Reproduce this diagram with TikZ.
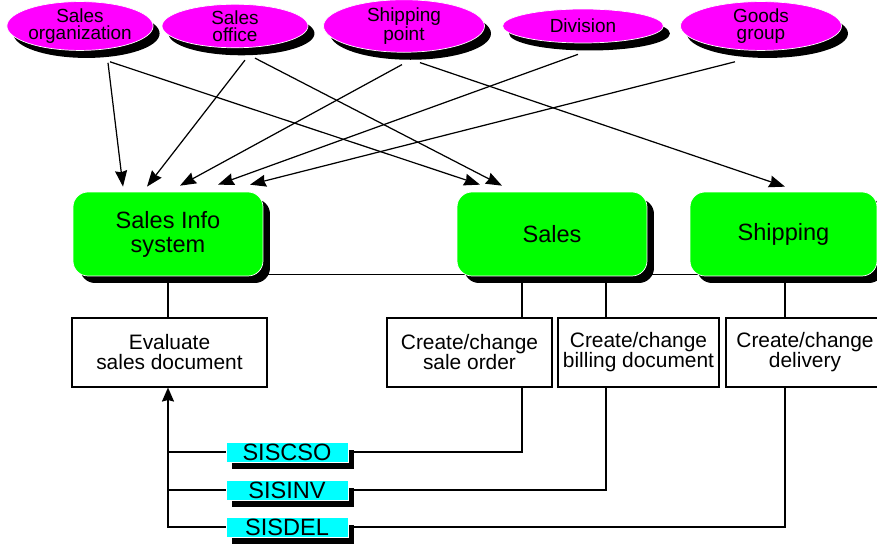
\documentclass[tikz,border=0pt]{standalone}
\usepackage{fontspec}
\setmainfont{Liberation Sans}
\usepackage{tikz}
\usetikzlibrary{arrows.meta, calc, shapes.geometric, shadows, backgrounds}
\definecolor{orgmagenta}{HTML}{FF00FF}
\definecolor{modulgruen}{HTML}{00FF00}
\definecolor{idoccyan}{HTML}{00FFFF}

\begin{document}
\begin{tikzpicture}[
        x=0.02cm, y=-0.02cm,
        orgunit/.style={ellipse, fill=orgmagenta, draw=white, line width=0.4pt,
          minimum height=0.68cm, inner sep=0pt, align=center,
          font=\fontsize{10.8}{9.6}\selectfont,
          drop shadow={shadow xshift=0.13cm, shadow yshift=-0.15cm, fill=black, opacity=1}},
        modul/.style={rectangle, rounded corners=0.3cm, fill=modulgruen, draw=white,
          minimum width=3.8cm, minimum height=1.68cm, align=center,
          font=\fontsize{13.4}{13.6}\selectfont,
          drop shadow={shadow xshift=0.14cm, shadow yshift=-0.14cm, fill=black, opacity=1}},
        vorgang/.style={rectangle, draw, line width=0.6pt, fill=white,
          minimum height=1.38cm, align=center, inner sep=1pt,
          font=\fontsize{11.9}{11.4}\selectfont},
        idoc/.style={rectangle, fill=idoccyan, draw=white, line width=0.5pt,
          minimum width=2.44cm, minimum height=0.4cm, inner sep=0pt,
          font=\fontsize{13.4}{13}\selectfont,
          drop shadow={shadow xshift=0.12cm, shadow yshift=-0.15cm, fill=black, opacity=1}},
        pfeil/.style={-{Stealth[length=0.32cm, width=0.24cm, inset=0.03cm]}, line width=0.7pt},
        linie/.style={line width=1pt},
      ]
      \useasboundingbox (0,0) rectangle (877,544);

      % Organisationseinheiten
      \node[orgunit, minimum width=2.92cm] (so)  at (80,26)  {Sales\\organization};
      \node[orgunit, minimum width=2.92cm] (sof) at (235,26) {Sales\\office};
      \node[orgunit, minimum width=3.22cm] (sp)  at (404,26) {Shipping\\point};
      \node[orgunit, minimum width=3.22cm] (div) at (583,26) {Division};
      \node[orgunit, minimum width=3.22cm] (gg)  at (761,26) {Goods\\group};

      % Module
      \node[modul] (sis)   at (168,234)   {Sales Info\\system};
      \node[modul] (sales) at (552,234)   {Sales};
      \node[modul, minimum width=3.74cm] (ship) at (783.5,234) {Shipping};

      % Vorgaenge
      \node[vorgang, minimum width=3.9cm]  (eval) at (169.5,352.5) {Evaluate\\sales document};
      \node[vorgang, minimum width=3.3cm]  (sco)  at (469.5,352.5) {Create/change\\sale order};
      \node[vorgang, minimum width=3.22cm] (cbd)  at (638.5,352.5) {Create/change\\billing document};
      \node[vorgang, minimum width=3.16cm] (del)  at (805,352.5)   {Create/change\\delivery};

      % Nachrichtentypen
      \node[idoc] (siscso) at (287,452) {SISCSO};
      \node[idoc] (sisinv) at (287,490) {SISINV};
      \node[idoc] (sisdel) at (287,527) {SISDEL};

      \begin{scope}[on background layer]
        % Pfeile zu den Modulen
        \draw[pfeil] ($(so.south)+(28,12)$)  -- ($(sis.north)+(-45,-5)$);
        \draw[pfeil] ($(so.south)+(30,11)$)  -- ($(sales.north)+(-72,-7)$);
        \draw[pfeil] ($(sof.south)+(10,12)$) -- ($(sis.north)+(-21,-5)$);
        \draw[pfeil] ($(sof.south)+(20,10)$) -- ($(sales.north)+(-50,-6)$);
        \draw[pfeil] ($(sp.south)+(-2,12)$)  -- ($(sis.north)+(12,-6)$);
        \draw[pfeil] ($(sp.south)+(16,10)$)  -- ($(ship.north)+(1.5,-5)$);
        \draw[pfeil] ($(div.south)+(-5,11)$) -- ($(sis.north)+(50,-7)$);
        \draw[pfeil] ($(gg.south)+(-26,11)$) -- ($(sis.north)+(82,-7)$);

        % Verbindung der Module
        \draw[line width=0.8pt] ($(sis.south)+(0,-2)$) -- ($(ship.south)+(0,-2)$);

        % Module zu Vorgaengen
        \coordinate (xa) at ($(sales.south)+(-30,0)$);
        \coordinate (xb) at ($(sales.south)+(54,0)$);
        \coordinate (xc) at ($(ship.south)+(1.5,0)$);
        \draw[linie] (sis.south) -- (sis.south |- eval.north);
        \draw[linie] (xa) -- (xa |- sco.north);
        \draw[linie] (xb) -- (xb |- cbd.north);
        \draw[linie] (xc) -- (xc |- del.north);

        % Nachrichtenfluss
        \draw[linie] (siscso.east) -| (xa |- sco.south);
        \draw[linie] (sisinv.east) -| (xb |- cbd.south);
        \draw[linie] (sisdel.east) -| (xc |- del.south);
        \draw[linie] (siscso.west) -- (siscso.west -| sis.south);
        \draw[linie] (sisinv.west) -- (sisinv.west -| sis.south);
        \draw[linie, -{Stealth[length=0.28cm, width=0.24cm, inset=0.03cm]}]
          (sisdel.west) -| (sis.south |- eval.south);
      \end{scope}
    \end{tikzpicture}
\end{document}
